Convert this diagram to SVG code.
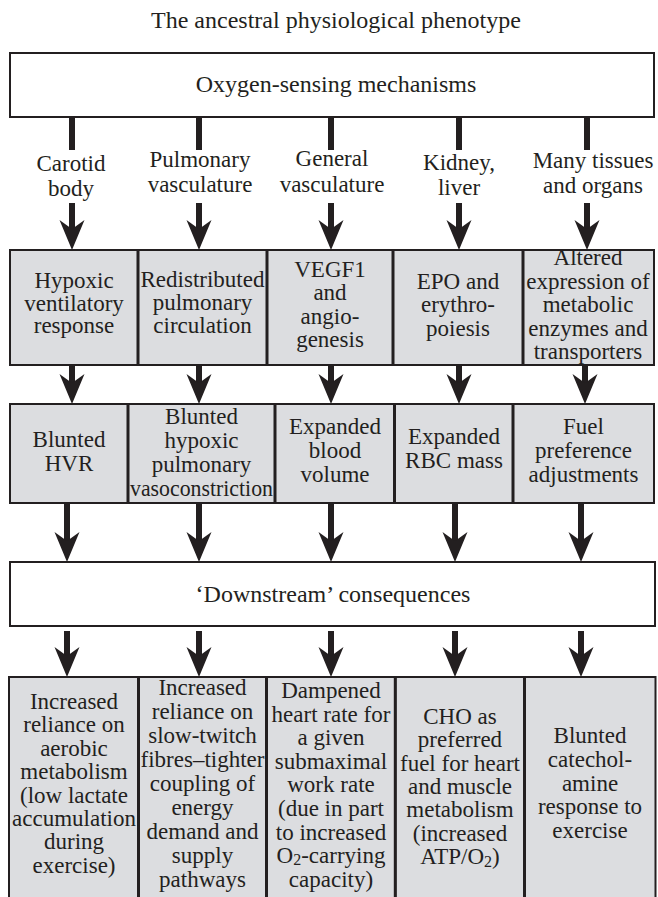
<svg xmlns="http://www.w3.org/2000/svg" width="658" height="897" viewBox="0 0 658 897">
<style>
.t{font-family:"Liberation Serif","Times New Roman",serif;font-size:23px;fill:#231f20;text-anchor:middle}
.big{font-size:24px}
.box{fill:#fff;stroke:#231f20;stroke-width:2}
.cell{fill:#dcdde0;stroke:#231f20;stroke-width:2}
.div{stroke:#231f20;stroke-width:3}
.shaft{stroke:#231f20;stroke-width:6;fill:none}
.arr{stroke:#231f20;stroke-width:6;fill:none;marker-end:url(#ah)}
.sub{font-size:16px}
</style>
<defs>
<marker id="ah" markerUnits="userSpaceOnUse" viewBox="-31 -13 32 26" markerWidth="32" markerHeight="26" refX="-21" refY="0" orient="auto">
<path d="M0,0 L-30,-12.5 L-21,0 L-30,12.5 Z" fill="#231f20"/>
</marker>
</defs>
<rect width="658" height="897" fill="#fff"/>
<g id="title"><text class="t big" x="336" y="28">The ancestral physiological phenotype</text></g>
<g id="oxygen-sensing"><rect class="box" x="10" y="53" width="644" height="64"/><text class="t big" x="336" y="92">Oxygen-sensing mechanisms</text></g>

<g id="connectors">
<line class="shaft" x1="72" y1="117" x2="72" y2="150"/>
<line class="shaft" x1="199" y1="117" x2="199" y2="150"/>
<line class="shaft" x1="331" y1="117" x2="331" y2="150"/>
<line class="shaft" x1="459" y1="117" x2="459" y2="150"/>
<line class="shaft" x1="587" y1="117" x2="587" y2="150"/>
<line class="arr" x1="72" y1="203" x2="72" y2="229"/>
<line class="arr" x1="199" y1="203" x2="199" y2="229"/>
<line class="arr" x1="331" y1="203" x2="331" y2="229"/>
<line class="arr" x1="459" y1="203" x2="459" y2="229"/>
<line class="arr" x1="587" y1="203" x2="587" y2="229"/>
<line class="arr" x1="72" y1="365" x2="72" y2="383"/>
<line class="arr" x1="199" y1="365" x2="199" y2="383"/>
<line class="arr" x1="331" y1="365" x2="331" y2="383"/>
<line class="arr" x1="459" y1="365" x2="459" y2="383"/>
<line class="arr" x1="585" y1="365" x2="585" y2="383"/>
<line class="arr" x1="67" y1="503" x2="67" y2="541"/>
<line class="arr" x1="199" y1="503" x2="199" y2="541"/>
<line class="arr" x1="331" y1="503" x2="331" y2="541"/>
<line class="arr" x1="455" y1="503" x2="455" y2="541"/>
<line class="arr" x1="581" y1="503" x2="581" y2="541"/>
<line class="arr" x1="67" y1="631" x2="67" y2="656"/>
<line class="arr" x1="199" y1="631" x2="199" y2="656"/>
<line class="arr" x1="331" y1="631" x2="331" y2="656"/>
<line class="arr" x1="455" y1="631" x2="455" y2="656"/>
<line class="arr" x1="581" y1="631" x2="581" y2="656"/>
</g>

<g id="sensors">
<text class="t" x="71" y="171">Carotid</text><text class="t" x="71" y="196">body</text>
<text class="t" x="200" y="167">Pulmonary</text><text class="t" x="200" y="192">vasculature</text>
<text class="t" x="332" y="166">General</text><text class="t" x="332" y="192">vasculature</text>
<text class="t" x="459" y="170">Kidney,</text><text class="t" x="459" y="195">liver</text>
<text class="t" x="593" y="168">Many tissues</text><text class="t" x="593" y="193">and organs</text>
</g>

<g id="row2-hvr"><rect class="cell" x="10" y="250" width="128" height="115"/>
<text class="t" x="74" y="288">Hypoxic</text><text class="t" x="74" y="310.5">ventilatory</text><text class="t" x="74" y="333">response</text></g>
<g id="row2-pulm"><rect class="cell" x="138" y="250" width="129" height="115"/>
<text class="t" x="202.5" y="287">Redistributed</text><text class="t" x="202.5" y="310">pulmonary</text><text class="t" x="202.5" y="333">circulation</text></g>
<g id="row2-vegf"><rect class="cell" x="267" y="250" width="126" height="115"/>
<text class="t" x="330" y="277">VEGF1</text><text class="t" x="330" y="300.3">and</text><text class="t" x="330" y="323.6">angio-</text><text class="t" x="330" y="347">genesis</text></g>
<g id="row2-epo"><rect class="cell" x="393" y="250" width="130" height="115"/>
<text class="t" x="458" y="289">EPO and</text><text class="t" x="458" y="312.3">erythro-</text><text class="t" x="458" y="335.6">poiesis</text></g>
<g id="row2-expr"><rect class="cell" x="523" y="250" width="131" height="115"/>
<text class="t" x="588" y="265">Altered</text><text class="t" x="588" y="288.5">expression of</text><text class="t" x="588" y="312">metabolic</text><text class="t" x="588" y="335.5">enzymes and</text><text class="t" x="588" y="359">transporters</text></g>
<g id="row2-dividers"><line class="div" x1="138" y1="250" x2="138" y2="365"/><line class="div" x1="267" y1="250" x2="267" y2="365"/><line class="div" x1="393" y1="250" x2="393" y2="365"/><line class="div" x1="523" y1="250" x2="523" y2="365"/></g>

<g id="row3-hvr"><rect class="cell" x="10" y="404" width="118" height="99"/>
<text class="t" x="69" y="447">Blunted</text><text class="t" x="69" y="470.5">HVR</text></g>
<g id="row3-hpv"><rect class="cell" x="128" y="404" width="147" height="99"/>
<text class="t" x="201.5" y="424">Blunted</text><text class="t" x="201.5" y="448">hypoxic</text><text class="t" x="201.5" y="472">pulmonary</text><text class="t" x="201.5" y="496" textLength="143" lengthAdjust="spacingAndGlyphs">vasoconstriction</text></g>
<g id="row3-blood"><rect class="cell" x="275" y="404" width="119.5" height="99"/>
<text class="t" x="335" y="434">Expanded</text><text class="t" x="335" y="458">blood</text><text class="t" x="335" y="482">volume</text></g>
<g id="row3-rbc"><rect class="cell" x="394.5" y="404" width="118.5" height="99"/>
<text class="t" x="454" y="444">Expanded</text><text class="t" x="454" y="468">RBC mass</text></g>
<g id="row3-fuel"><rect class="cell" x="513" y="404" width="141" height="99"/>
<text class="t" x="583.5" y="434">Fuel</text><text class="t" x="583.5" y="458">preference</text><text class="t" x="583.5" y="482">adjustments</text></g>
<g id="row3-dividers"><line class="div" x1="128" y1="404" x2="128" y2="503"/><line class="div" x1="275" y1="404" x2="275" y2="503"/><line class="div" x1="394.5" y1="404" x2="394.5" y2="503"/><line class="div" x1="513" y1="404" x2="513" y2="503"/></g>

<g id="downstream"><rect class="box" x="10" y="562" width="645" height="64"/><text class="t big" x="333" y="602">‘Downstream’ consequences</text></g>

<g id="row4-aerobic"><rect class="cell" x="9" y="677" width="129.5" height="225"/>
<text class="t" x="74" y="709">Increased</text><text class="t" x="74" y="732.4">reliance on</text><text class="t" x="74" y="755.8">aerobic</text><text class="t" x="74" y="779.2">metabolism</text><text class="t" x="74" y="802.6">(low lactate</text><text class="t" x="74" y="826">accumulation</text><text class="t" x="74" y="849.4">during</text><text class="t" x="74" y="872.8">exercise)</text></g>
<g id="row4-fibres"><rect class="cell" x="138.5" y="677" width="128" height="225"/>
<text class="t" x="202.5" y="695">Increased</text><text class="t" x="202.5" y="719">reliance on</text><text class="t" x="202.5" y="743">slow-twitch</text><text class="t" x="202.5" y="767">fibres–tighter</text><text class="t" x="202.5" y="791">coupling of</text><text class="t" x="202.5" y="815">energy</text><text class="t" x="202.5" y="839">demand and</text><text class="t" x="202.5" y="863">supply</text><text class="t" x="202.5" y="887">pathways</text></g>
<g id="row4-heart"><rect class="cell" x="266.5" y="677" width="128.8" height="225"/>
<text class="t" x="331" y="698">Dampened</text><text class="t" x="331" y="721.6">heart rate for</text><text class="t" x="331" y="745.2">a given</text><text class="t" x="331" y="768.8">submaximal</text><text class="t" x="331" y="792.4">work rate</text><text class="t" x="331" y="816">(due in part</text><text class="t" x="331" y="839.6">to increased</text><text class="t" x="331" y="862.5">O<tspan class="sub" dy="2.5">2</tspan><tspan dy="-2.5">-carrying</tspan></text><text class="t" x="331" y="887">capacity)</text></g>
<g id="row4-cho"><rect class="cell" x="395.3" y="677" width="129.2" height="225"/>
<text class="t" x="460" y="724">CHO as</text><text class="t" x="460" y="747.3">preferred</text><text class="t" x="460" y="770.6">fuel for heart</text><text class="t" x="460" y="793.9">and muscle</text><text class="t" x="460" y="817.2">metabolism</text><text class="t" x="460" y="840.5">(increased</text><text class="t" x="460" y="863.8">ATP/O<tspan class="sub" dy="3">2</tspan><tspan dy="-3">)</tspan></text></g>
<g id="row4-catechol"><rect class="cell" x="524.5" y="677" width="131" height="225"/>
<text class="t" x="590" y="743">Blunted</text><text class="t" x="590" y="766.75">catechol-</text><text class="t" x="590" y="790.5">amine</text><text class="t" x="590" y="814.25">response to</text><text class="t" x="590" y="838">exercise</text></g>
<g id="row4-dividers"><line class="div" x1="138.5" y1="677" x2="138.5" y2="897"/><line class="div" x1="266.5" y1="677" x2="266.5" y2="897"/><line class="div" x1="395.3" y1="677" x2="395.3" y2="897"/><line class="div" x1="524.5" y1="677" x2="524.5" y2="897"/></g>
</svg>
